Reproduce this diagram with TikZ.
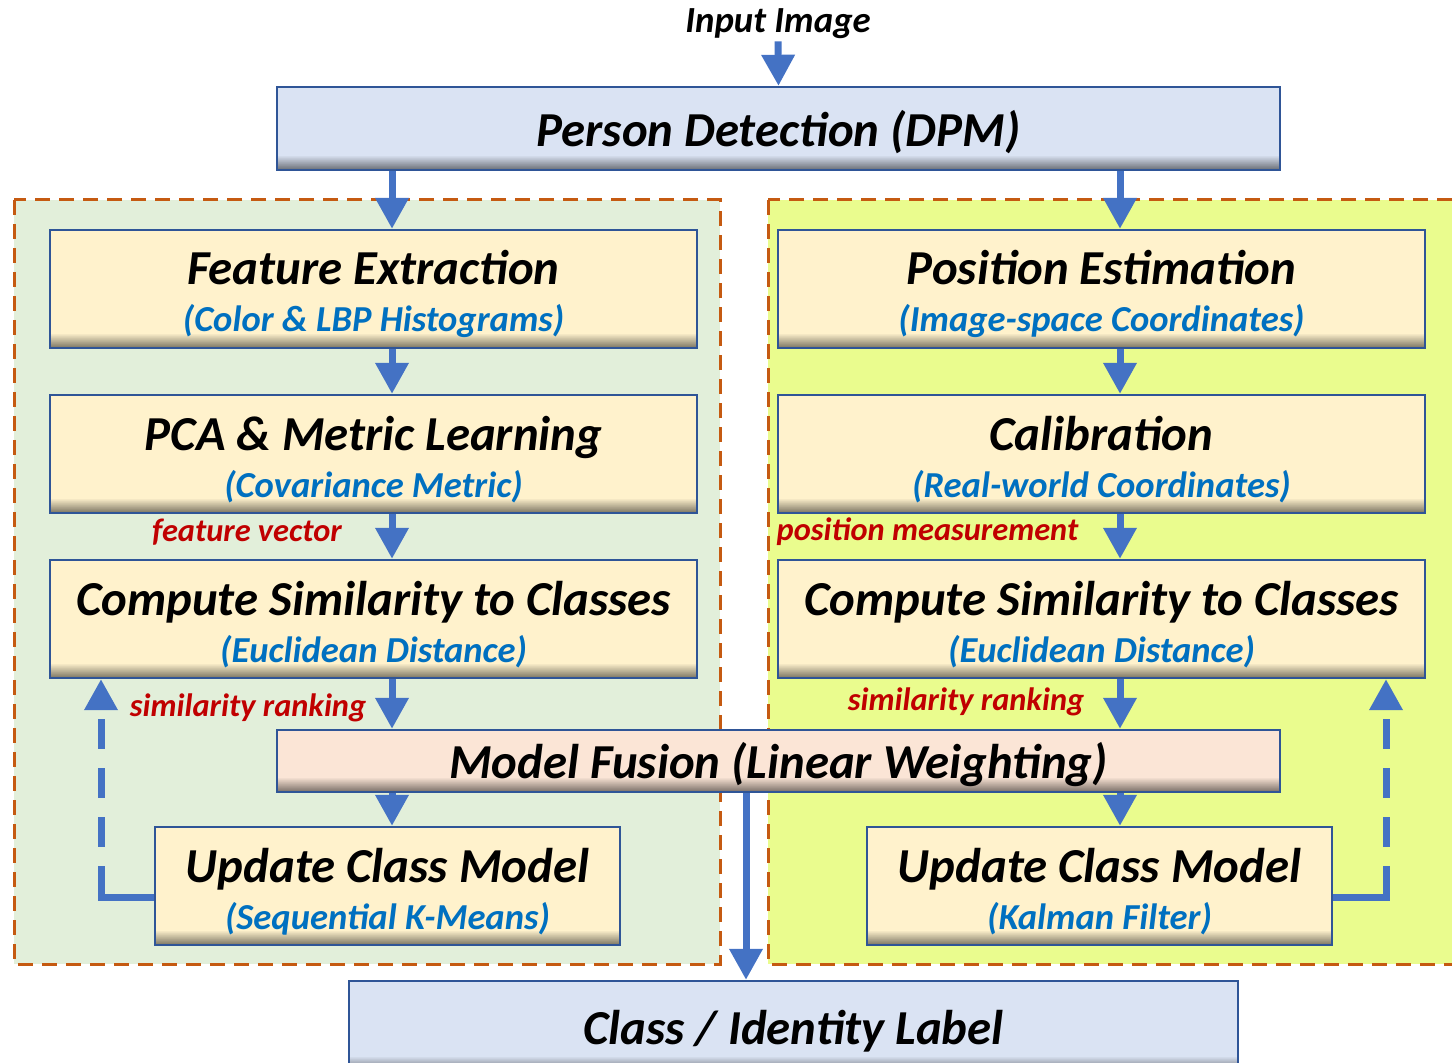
\documentclass[tikz,border=0pt]{standalone}
\usepackage{fontspec}
\setmainfont{Carlito}
\usepackage{tikz}
\usetikzlibrary{arrows.meta}
\definecolor{FlowBlue}{HTML}{4472C4}
\definecolor{BoxLine}{HTML}{2F5597}
\definecolor{SubBlue}{HTML}{0070C0}
\definecolor{NoteRed}{HTML}{C00000}
\definecolor{DashOrange}{HTML}{C55A11}
\definecolor{StageFill}{HTML}{FFF2CC}
\definecolor{TopFill}{HTML}{DAE3F3}
\definecolor{FuseFill}{HTML}{FBE5D6}
\definecolor{AppearFill}{HTML}{E2EFDA}
\definecolor{MotionFill}{HTML}{EAFC8E}

\newcommand{\stage}[2]{{\fontsize{24.4}{23.5}\selectfont\rule{0pt}{22.5pt}#1}\\{\color{SubBlue}#2}}

\tikzset{
  box/.style={draw=BoxLine, line width=1.2pt, fill=#1, inner sep=0pt, align=center,
    execute at begin node={\rule{0pt}{22pt}},
    path picture={
      \foreach \k in {0,...,13}{
        \pgfmathtruncatemacro\mix{100-3.5*(14-\k)}
        \fill[#1!\mix!black] ([yshift=\k*0.5pt]path picture bounding box.south west)
          rectangle ([yshift=\k*0.5pt+0.55pt]path picture bounding box.south east);
      }}},
  stagebox/.style={box=StageFill, minimum width=323.5pt, minimum height=59pt,
    font=\bfseries\itshape\fontsize{18.3}{23.5}\selectfont},
  updbox/.style={stagebox, minimum width=232.5pt},
  wide/.style={box=#1, minimum width=501.5pt, font=\bfseries\itshape\fontsize{24.4}{28}\selectfont},
  note/.style={NoteRed, font=\bfseries\itshape\fontsize{16.2}{18}\selectfont},
  flow/.style={FlowBlue, line width=3.5pt, -{Triangle[width=16pt,length=15.5pt]}},
  feedback/.style={flow, dash pattern=on 42pt off 9.5pt on 15pt off 9.5pt on 15pt off 9.5pt on 15pt off 9.5pt},
  zone/.style={draw=DashOrange, line width=1.5pt, dash pattern=on 7.5pt off 4.5pt, fill=#1}
}

\begin{document}
\begin{tikzpicture}[x=0.5pt, y=-0.5pt]
  \useasboundingbox (0,0) rectangle (1452,1063);

  \draw[zone=AppearFill] (14,200) rectangle (720,964);
  \draw[zone=MotionFill] (768,200) rectangle (1462,964);

  \node[font=\bfseries\itshape\fontsize{18.4}{20}\selectfont, inner sep=1pt] (inp) at (778,24) {Input Image};
  \node[wide=TopFill, minimum height=41.5pt] (pd) at (778.5,128.5) {Person Detection (DPM)};

  \node[stagebox] (fe) at (373.5,289) {\stage{Feature Extraction}{(Color \& LBP Histograms)}};
  \node[stagebox] (pca) at (373.5,454) {\stage{PCA \& Metric Learning}{(Covariance Metric)}};
  \node[stagebox] (cmpl) at (373.5,619) {\stage{Compute Similarity to Classes}{(Euclidean Distance)}};

  \node[stagebox] (pe) at (1101.5,289) {\stage{Position Estimation}{(Image-space Coordinates)}};
  \node[stagebox] (cal) at (1101.5,454) {\stage{Calibration}{(Real-world Coordinates)}};
  \node[stagebox] (cmpr) at (1101.5,619) {\stage{Compute Similarity to Classes}{(Euclidean Distance)}};

  \node[wide=FuseFill, minimum height=31pt] (fus) at (778.5,761) {Model Fusion (Linear Weighting)};

  \node[updbox] (updl) at (387.5,886) {\stage{Update Class Model}{(Sequential K-Means)}};
  \node[updbox] (updr) at (1099.5,886) {\stage{Update Class Model}{(Kalman Filter)}};

  \node[wide=TopFill, minimum width=444.5pt, minimum height=45pt] (cls) at (793.5,1026) {Class / Identity Label};

  \node[note] (fv) at (247,532) {feature vector};
  \node[note] (pm) at (927.5,532) {position measurement};
  \node[note] (srl) at (248,708) {similarity ranking};
  \node[note] (srr) at (966,702) {similarity ranking};

  \coordinate (lcol) at (392,0);
  \coordinate (rcol) at (1120,0);
  \coordinate (mcol) at (746,0);
  \coordinate (lback) at (101,0);
  \coordinate (rback) at (1386,0);

  \draw[flow] (inp.south) -- (pd.north);
  \foreach \a/\b/\c in {pd/fe/lcol, fe/pca/lcol, pca/cmpl/lcol, cmpl/fus/lcol, fus/updl/lcol,
                        pd/pe/rcol, pe/cal/rcol, cal/cmpr/rcol, cmpr/fus/rcol, fus/updr/rcol,
                        fus/cls/mcol}
    \draw[flow] (\a.south -| \c) -- (\b.north -| \c);

  \draw[feedback] ([yshift=-5.5pt]updl.west) -| (cmpl.south -| lback);
  \draw[feedback] ([yshift=-5.5pt]updr.east) -| (cmpr.south -| rback);
\end{tikzpicture}
\end{document}
